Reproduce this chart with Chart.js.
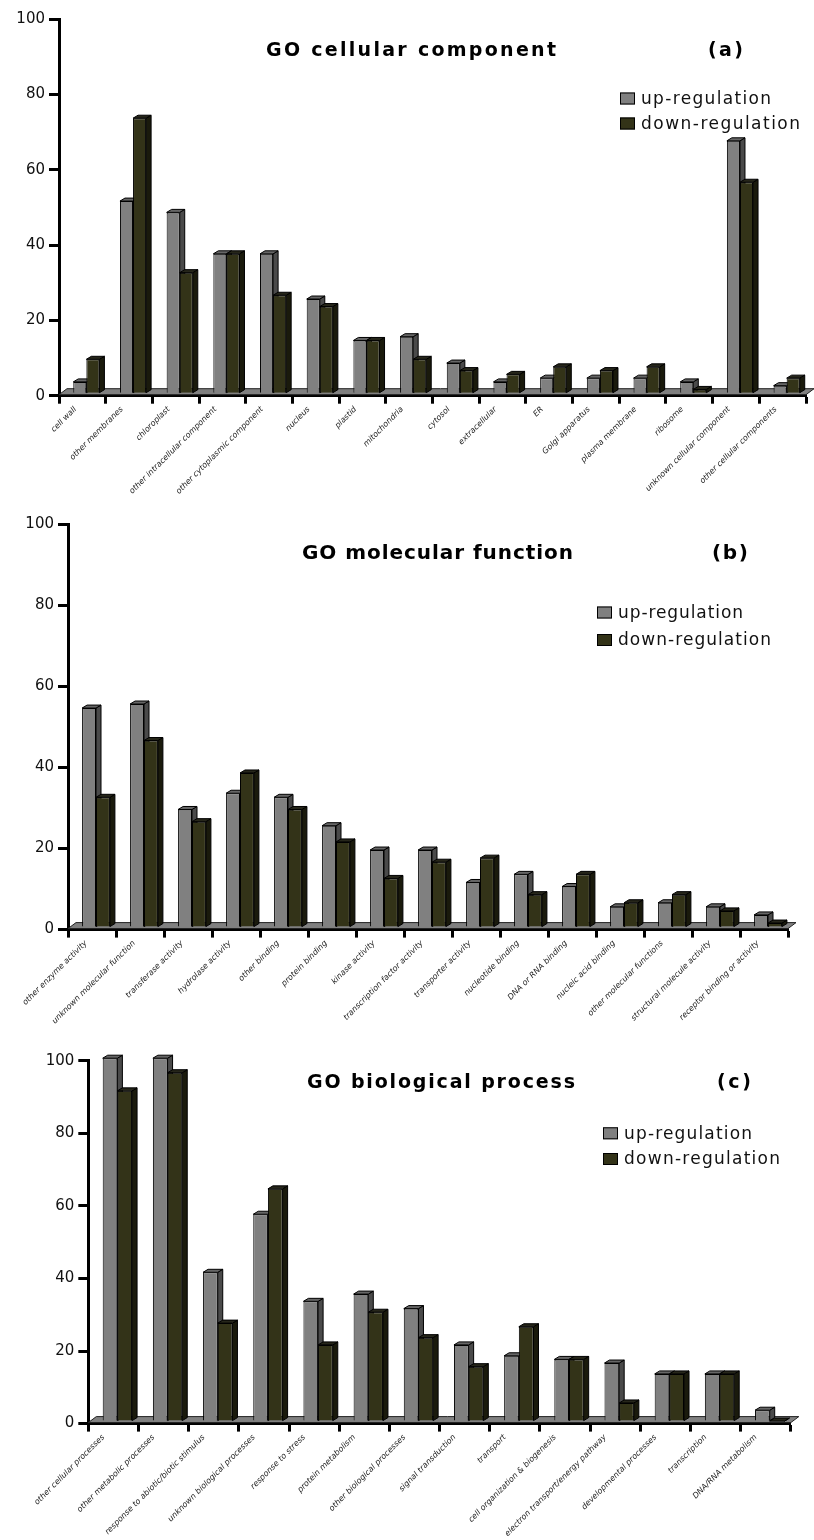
<!DOCTYPE html>
<html>
<head>
<meta charset="utf-8">
<script src="https://cdn.jsdelivr.net/npm/chart.js@4.4.1/dist/chart.umd.min.js"></script>
<style>
  body { margin: 0; background: #fff; }
  #page { position: relative; width: 814px; height: 1540px; overflow: hidden; }
  canvas { position: absolute; left: 0; }
</style>
</head>
<body>
<div id="page">
  <canvas id="chartA" width="814" height="500" style="top:0px"></canvas>
  <canvas id="chartB" width="814" height="540" style="top:500px"></canvas>
  <canvas id="chartC" width="814" height="510" style="top:1030px"></canvas>
</div>
<script>
/* GO category counts, up vs down regulated */

const seriesNames = ['up-regulation', 'down-regulation'];
const yTicks = [0, 20, 40, 60, 80, 100];

const cellularLabels = ['cell wall', 'other membranes', 'chloroplast', 'other intracellular component',
  'other cytoplasmic component', 'nucleus', 'plastid', 'mitochondria', 'cytosol', 'extracellular', 'ER',
  'Golgi apparatus', 'plasma membrane', 'ribosome', 'unknown cellular component', 'other cellular components'];
const cellularUp = [3, 51, 48, 37, 37, 25, 14, 15, 8, 3, 4, 4, 4, 3, 67, 2];
const cellularDown = [9, 73, 32, 37, 26, 23, 14, 9, 6, 5, 7, 6, 7, 1, 56, 4];

const molecularLabels = ['other enzyme activity', 'unknown molecular function', 'transferase activity',
  'hydrolase activity', 'other binding', 'protein binding', 'kinase activity', 'transcription factor activity',
  'transporter activity', 'nucleotide binding', 'DNA or RNA binding', 'nucleic acid binding',
  'other molecular functions', 'structural molecule activity', 'receptor binding or activity'];
const molecularUp = [54, 55, 29, 33, 32, 25, 19, 19, 11, 13, 10, 5, 6, 5, 3];
const molecularDown = [32, 46, 26, 38, 29, 21, 12, 16, 17, 8, 13, 6, 8, 4, 1];

const biologicalLabels = ['other cellular processes', 'other metabolic processes',
  'response to abiotic/biotic stimulus', 'unknown biological processes', 'response to stress',
  'protein metabolism', 'other biological processes', 'signal transduction', 'transport',
  'cell organization & biogenesis', 'electron transport/energy pathway', 'developmental processes',
  'transcription', 'DNA/RNA metabolism'];
const biologicalUp = [100, 100, 41, 57, 33, 35, 31, 21, 18, 17, 16, 13, 13, 3];
const biologicalDown = [91, 96, 27, 64, 21, 30, 23, 15, 26, 17, 5, 13, 13, 0];

const FONT = '"DejaVu Sans", Verdana, sans-serif';

function poly(ctx, pts, fill) {
  ctx.beginPath();
  ctx.moveTo(pts[0][0], pts[0][1]);
  for (let k = 1; k < pts.length; k++) ctx.lineTo(pts[k][0], pts[k][1]);
  ctx.closePath();
  ctx.fillStyle = fill;
  ctx.fill();
  ctx.stroke();
}

// draw text stretched with letter spacing so it runs from x0 to x1
function fitText(ctx, text, x0, x1, y, font) {
  ctx.font = font;
  ctx.letterSpacing = '0px';
  const w = ctx.measureText(text).width;
  const sp = (x1 - x0 - w) / (text.length - 1);
  ctx.letterSpacing = sp + 'px';
  ctx.textAlign = 'left';
  ctx.fillText(text, x0, y);
  ctx.letterSpacing = '0px';
}

// fake "3D prism" bars: floor, then each bar front + side + top
const prismPlugin = {
  id: 'prism',
  beforeDatasetsDraw(chart, args, opts) {
    const ctx = chart.ctx;
    const area = chart.chartArea;
    const zero = chart.scales.y.getPixelForValue(0);
    const dx = opts.depthX, dy = opts.depthY;
    ctx.save();
    ctx.lineWidth = 1;
    ctx.strokeStyle = '#222';
    poly(ctx, [[area.left, zero - 1], [area.right, zero - 1],
      [area.right + opts.floorX, zero - 1 + opts.floorY], [area.left + opts.floorX, zero - 1 + opts.floorY]], '#808080');
    ctx.translate(opts.shiftX, opts.shiftY);
    ctx.strokeStyle = '#000';
    const metas = chart.data.datasets.map((d, i) => chart.getDatasetMeta(i));
    for (let i = 0; i < chart.data.labels.length; i++) {
      metas.forEach((meta, d) => {
        const ds = chart.data.datasets[d];
        const bar = meta.data[i];
        const p = bar.getProps(['x', 'y', 'base', 'width'], true);
        const l = p.x - p.width / 2, r = p.x + p.width / 2;
        bar.draw(ctx, area);
        ctx.lineWidth = 1;
        ctx.strokeStyle = '#000';
        poly(ctx, [[r, p.y], [r + dx, p.y + dy], [r + dx, p.base + dy], [r, p.base]], ds.sideColor);
        poly(ctx, [[l, p.y], [l + dx, p.y + dy], [r + dx, p.y + dy], [r, p.y]], ds.topColor);
      });
    }
    ctx.restore();
    return false;
  },
  afterDraw(chart, args, opts) {
    const ctx = chart.ctx;
    ctx.save();
    ctx.textBaseline = 'middle';
    ctx.fillStyle = '#000';
    fitText(ctx, opts.title, opts.titleX[0], opts.titleX[1], opts.titleY, 'bold ' + opts.titleSize + 'px ' + FONT);
    fitText(ctx, opts.tag, opts.tagX[0], opts.tagX[1], opts.titleY, 'bold ' + opts.titleSize + 'px ' + FONT);
    const lg = opts.legend;
    chart.data.datasets.forEach((ds, i) => {
      const cy = lg.y[i];
      ctx.fillStyle = ds.backgroundColor;
      ctx.strokeStyle = '#000';
      ctx.lineWidth = 1;
      ctx.fillRect(lg.x, cy - 6, 15, 12);
      ctx.strokeRect(lg.x + 0.5, cy - 5.5, 14, 11);
      ctx.fillStyle = '#111';
      fitText(ctx, ds.label, lg.x + 21, lg.textEnd[i], cy + 1, '17px ' + FONT);
    });
    ctx.restore();
  }
};

function makeChart(id, labels, up, down, box) {
  const ctx = document.getElementById(id).getContext('2d');
  const H = ctx.canvas.height;
  return new Chart(ctx, {
    type: 'bar',
    data: {
      labels: labels,
      datasets: [{
        label: seriesNames[0],
        data: up,
        backgroundColor: '#808080',
        sideColor: '#4a4a4a',
        topColor: '#666666',
        borderColor: '#000',
        borderWidth: 1
      }, {
        label: seriesNames[1],
        data: down,
        backgroundColor: '#333318',
        sideColor: '#1a1a0c',
        topColor: '#26261a',
        borderColor: '#000',
        borderWidth: 1
      }]
    },
    options: {
      responsive: false,
      animation: false,
      events: [],
      layout: { padding: { left: 0, top: box.top, right: 814 - box.right, bottom: 0 } },
      datasets: { bar: { categoryPercentage: box.cat, barPercentage: 1.0 } },
      scales: {
        x: {
          offset: true,
          grid: { offset: true, drawOnChartArea: false, tickLength: 8, tickWidth: 3, tickColor: '#000' },
          border: { display: true, width: 3, color: '#000' },
          ticks: {
            autoSkip: false, minRotation: 45, maxRotation: 45, padding: 1,
            labelOffset: box.labelShift, color: '#222',
            font: { family: FONT, size: 8, style: 'italic' }
          },
          afterFit(scale) {
            scale.height = H - box.bottom;
            scale.paddingLeft = 0;
            scale.paddingRight = 0;
          }
        },
        y: {
          min: 0, max: 100,
          afterBuildTicks(scale) { scale.ticks = yTicks.map(v => ({ value: v })); },
          grid: { drawOnChartArea: false, tickLength: 10, tickWidth: 3, tickColor: '#000' },
          border: { display: true, width: 3, color: '#000' },
          ticks: { padding: 4, color: '#111', font: { family: FONT, size: 15 } },
          afterFit(scale) { scale.width = box.left; }
        }
      },
      plugins: {
        legend: { display: false },
        title: { display: false },
        tooltip: { enabled: false },
        prism: {
          depthX: 5, depthY: -3, floorX: 8, floorY: -6, shiftX: 4, shiftY: -2.5,
          title: box.title, titleX: box.titleX, titleY: box.titleY, titleSize: box.titleSize,
          tag: box.tag, tagX: box.tagX,
          legend: box.legend
        }
      }
    },
    plugins: [prismPlugin]
  });
}

makeChart('chartA', cellularLabels, cellularUp, cellularDown, {
  left: 59, top: 19, right: 806, bottom: 395.7, cat: 0.56, labelShift: -7,
  title: 'GO cellular component', titleX: [266, 556], titleY: 51.5, titleSize: 19,
  tag: '(a)', tagX: [708, 743],
  legend: { x: 620, y: [98.5, 123.5], textEnd: [771, 800] }
});

makeChart('chartB', molecularLabels, molecularUp, molecularDown, {
  left: 68, top: 24, right: 788, bottom: 429.6, cat: 0.58, labelShift: -6,
  title: 'GO molecular function', titleX: [302, 573], titleY: 53.5, titleSize: 20,
  tag: '(b)', tagX: [712, 748],
  legend: { x: 597, y: [112.5, 140], textEnd: [743, 771] }
});

makeChart('chartC', biologicalLabels, biologicalUp, biologicalDown, {
  left: 88.3, top: 30.7, right: 790.8, bottom: 393.6, cat: 0.585, labelShift: -10,
  title: 'GO biological process', titleX: [307, 575], titleY: 53.3, titleSize: 19,
  tag: '(c)', tagX: [717, 751],
  legend: { x: 603, y: [103.3, 129], textEnd: [752, 780] }
});
</script>
</body>
</html>
